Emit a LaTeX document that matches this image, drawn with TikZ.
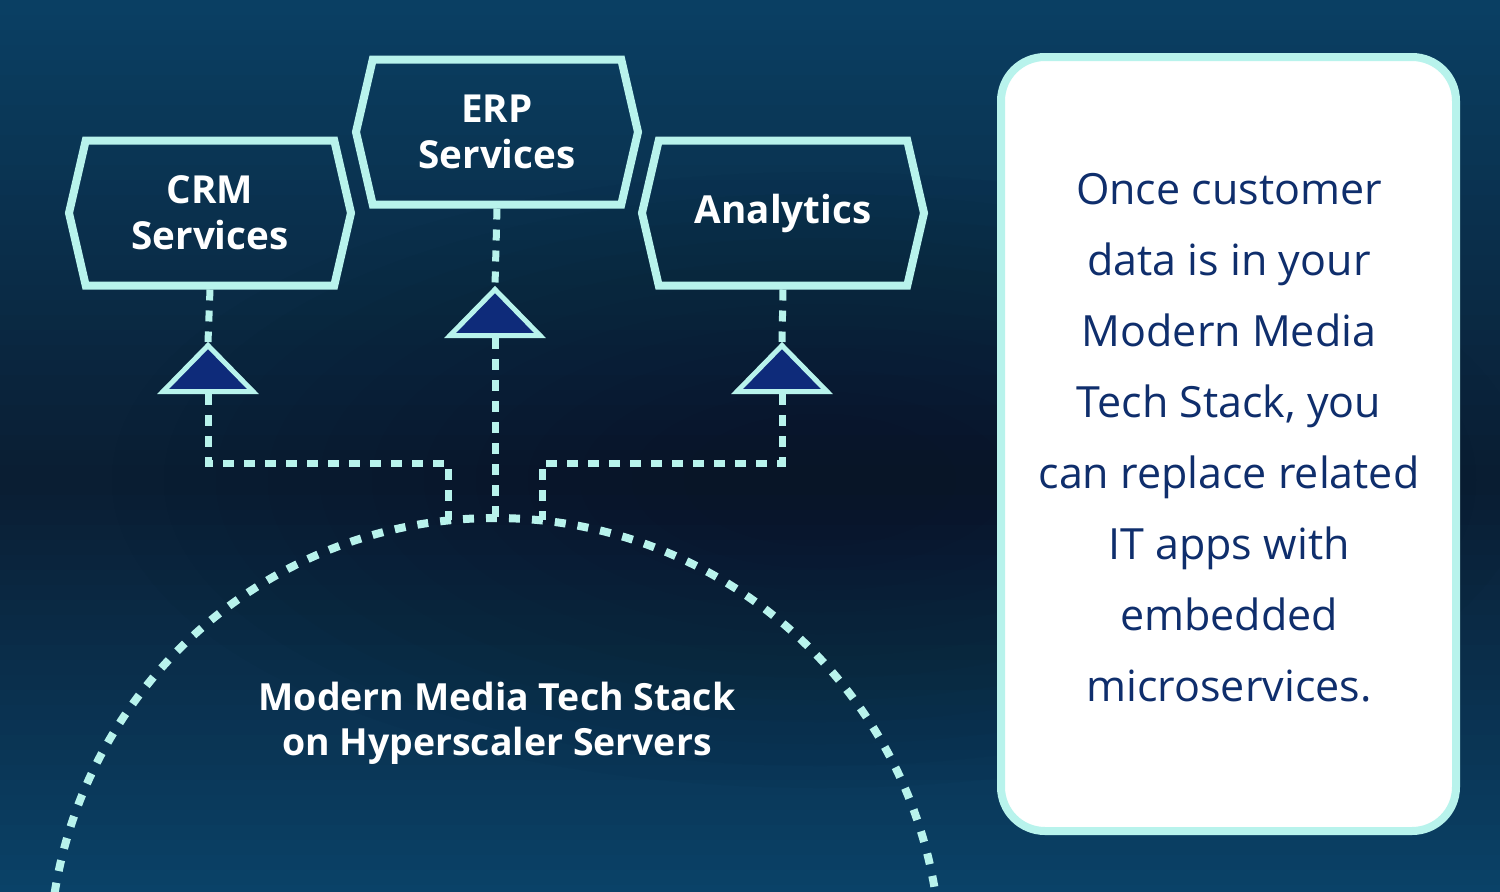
\documentclass[tikz,border=0pt]{standalone}
\usepackage{fontspec}
\setmainfont{Open Sans}
\definecolor{MTeal}{HTML}{B8F3EC}
\definecolor{MNavy}{HTML}{0E2B7A}
\definecolor{MInk}{HTML}{0F2E6C}
\definecolor{MTop}{HTML}{0A4064}
\definecolor{MMid}{HTML}{0A1D32}
\definecolor{MBot}{HTML}{0A4268}
\definecolor{MDeep}{HTML}{081522}
\usetikzlibrary{arrows.meta,positioning,calc,shapes.geometric,shapes.symbols}

\begin{document}
\begin{tikzpicture}[x=0.5pt,y=-0.5pt,
    svc/.style={signal,signal to=west and east,signal pointer angle=154,
      draw=MTeal,line width=4pt,minimum width=141pt,minimum height=72.5pt,
      inner sep=0pt,align=center,text=white,
      font=\fontsize{19.3}{23}\selectfont\bfseries},
    tri/.style={isosceles triangle,isosceles triangle apex angle=90,
      isosceles triangle stretches,shape border rotate=90,
      minimum width=45pt,minimum height=23pt,inner sep=0pt,
      draw=MTeal,fill=MNavy,line width=2.5pt},
    link/.style={draw=MTeal,line width=3.5pt,dash pattern=on 5.5pt off 5pt},
    ring/.style={draw=MTeal,line width=4pt,dash pattern=on 5.5pt off 6pt},
    panel/.style={draw=MTeal,fill=white,line width=4pt,rounded corners=22pt,
      minimum width=227.5pt,minimum height=387pt}]
    % backdrop, banded gradient
    \clip (0,0) rectangle (1500,891);
    \foreach \i in {0,...,59}{
      \pgfmathsetmacro{\yy}{15*\i+7.5}
      \ifdim\yy pt<480pt
        \pgfmathsetmacro{\p}{(480-\yy)/4.8}
        \fill[MTop!\p!MMid] (0,15*\i) rectangle (1500,15*\i+15.5);
      \else
        \pgfmathsetmacro{\p}{(\yy-480)/4.11}
        \fill[MBot!\p!MMid] (0,15*\i) rectangle (1500,15*\i+15.5);
      \fi
    }
    \foreach \r in {1,...,12}
      \fill[MDeep,opacity=0.035] (820,480) ellipse ({760-52*\r} and {330-22*\r});
    % service boxes
    \node[svc] (crm) at (210,213) {CRM\\Services};
    \node[svc] (erp) at (497,132) {ERP\\Services};
    \node[svc] (ana) at (783,213) {Analytics};
    % triangles
    \node[tri,anchor=south] (tcrm) at (208,394) {};
    \node[tri,anchor=south] (terp) at (495,338) {};
    \node[tri,anchor=south] (tana) at (782,394) {};
    % stack circle
    \draw[ring] (495,964) circle (446);
    \coordinate (top) at (495,518);
    \coordinate (inl) at (448,520);
    \coordinate (inr) at (542,520);
    \node[text=white,align=center,font=\fontsize{18.7}{22.5}\selectfont\bfseries]
      (stack) at (497,723) {Modern Media Tech Stack\\on Hyperscaler Servers};
    % connectors
    \draw[link] (crm.south) -- (tcrm.apex);
    \draw[link] (erp.south) -- (terp.apex);
    \draw[link] (ana.south) -- (tana.apex);
    \draw[link] (tcrm.south) -- ++(0,69) -| (inl);
    \draw[link] (terp.south) -- (top);
    \draw[link] (tana.south) -- ++(0,69) -| (inr);
    % note panel
    \node[panel] (note) at (1228.5,444) {};
    \node[align=center,text=MInk,font=\fontsize{21.5}{35.5}\selectfont]
      (notetext) at (1229,438) {Once customer\\data is in your\\Modern Media\\Tech Stack, you\\can replace related\\IT apps with\\embedded\\microservices.};
\end{tikzpicture}
\end{document}
